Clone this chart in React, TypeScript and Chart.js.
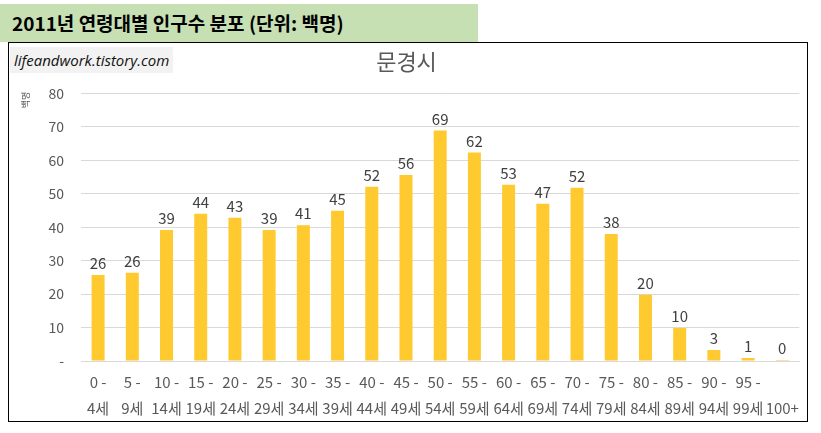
import React, { useEffect, useRef } from "react";
import { Chart, registerables } from "chart.js";

Chart.register(...registerables);

const FONT = "'Noto Sans CJK KR', 'Open Sans', sans-serif";

const ageStarts = ["0", "5", "10", "15", "20", "25", "30", "35", "40", "45", "50", "55", "60", "65", "70", "75", "80", "85", "90", "95"];
const ageEnds = ["4세", "9세", "14세", "19세", "24세", "29세", "34세", "39세", "44세", "49세", "54세", "59세", "64세", "69세", "74세", "79세", "84세", "89세", "94세", "99세"];
const lastCategory = "100+";
const population = [25.7, 26.4, 39.2, 44.0, 42.8, 39.2, 40.6, 44.9, 52.1, 55.6, 68.9, 62.3, 52.7, 47.0, 51.8, 38.0, 19.8, 9.9, 3.3, 0.9, 0.3];
const yTicks = [0, 10, 20, 30, 40, 50, 60, 70, 80];

const labels: (string[])[] = ageStarts.map((s, i) => [s + " -", ageEnds[i]]);
labels.push([" ", lastCategory]);

// values above each bar
const barLabels = {
  id: "barLabels",
  afterDatasetsDraw(chart: any) {
    const ctx = chart.ctx;
    const meta = chart.getDatasetMeta(0);
    ctx.save();
    ctx.font = `15px ${FONT}`;
    ctx.fillStyle = "#404040";
    ctx.textAlign = "center";
    ctx.textBaseline = "bottom";
    meta.data.forEach((bar: any, i: number) => {
      ctx.fillText(String(Math.round(population[i])), bar.x, bar.y - 4);
    });
    // small rotated unit label
    ctx.font = `9px ${FONT}`;
    ctx.fillStyle = "#595959";
    ctx.translate(17, 57);
    ctx.rotate(-Math.PI / 2);
    ctx.textAlign = "center";
    ctx.textBaseline = "middle";
    ctx.fillText("백명", 0, 0);
    ctx.restore();
  },
};

const PopulationChart: React.FC = () => {
  const chartRef = useRef<HTMLCanvasElement>(null);

  useEffect(() => {
    let chart: Chart | null = null;
    if (chartRef.current) {
      const ctx = chartRef.current.getContext("2d");
      if (ctx) {
        chart = new Chart(ctx, {
          type: "bar",
          data: {
            labels: labels,
            datasets: [
              {
                data: population,
                backgroundColor: "#FFCA30",
                barPercentage: 0.38,
                categoryPercentage: 1,
              },
            ],
          },
          options: {
            animation: false,
            responsive: false,
            layout: { padding: { left: 0, right: 3, top: 0, bottom: 0 } },
            plugins: {
              legend: { display: false },
              tooltip: { enabled: false },
              title: {
                display: true,
                text: "문경시",
                color: "#595959",
                font: { family: FONT, size: 22, weight: "normal" },
                padding: { top: 5, bottom: 19 },
              },
            },
            scales: {
              x: {
                grid: { display: false, drawTicks: false },
                border: { display: true, color: "#d9d9d9" },
                ticks: {
                  color: "#595959",
                  font: { family: FONT, size: 15, lineHeight: "26px" },
                  padding: 8,
                  maxRotation: 0,
                  autoSkip: false,
                },
                afterFit: (s: any) => {
                  s.height = 60;
                },
              },
              y: {
                min: 0,
                max: 80,
                afterBuildTicks: (s: any) => {
                  s.ticks = yTicks.map((v) => ({ value: v }));
                },
                grid: { color: "#d9d9d9", drawTicks: false },
                border: { display: false },
                ticks: {
                  color: "#595959",
                  font: { family: FONT, size: 14 },
                  padding: 17,
                  callback: (v: any) => (v === 0 ? "-" : String(v)),
                },
                afterFit: (s: any) => {
                  s.width = 72;
                },
              },
            },
          },
          plugins: [barLabels],
        });
      }
    }
    return () => {
      if (chart) chart.destroy();
    };
  }, []);

  return <canvas ref={chartRef} width={798} height={378} style={{ display: "block" }} />;
};

const App: React.FC = () => {
  return (
    <div style={{ position: "absolute", left: 0, top: 0, width: 821, height: 433, background: "#fff", fontFamily: FONT }}>
      <div
        style={{
          position: "absolute",
          left: 0,
          top: 4,
          width: 478,
          height: 38,
          background: "#C6E0B4",
          color: "#000",
          fontWeight: "bold",
          fontSize: 19,
          lineHeight: "38px",
          paddingLeft: 12,
          boxSizing: "border-box",
        }}
      >
        2011년 연령대별 인구수 분포 (단위: 백명)
      </div>
      <div
        style={{
          position: "absolute",
          left: 8,
          top: 42,
          width: 800,
          height: 380,
          border: "1px solid #000",
          boxSizing: "border-box",
        }}
      >
        <PopulationChart />
        <div
          style={{
            position: "absolute",
            left: 1,
            top: 4,
            width: 163,
            height: 26,
            background: "#F2F2F2",
            color: "#111",
            fontStyle: "italic",
            fontSize: 15,
            lineHeight: "26px",
            paddingLeft: 4,
            boxSizing: "border-box",
            fontFamily: "'Open Sans', sans-serif",
          }}
        >
          lifeandwork.tistory.com
        </div>
      </div>
    </div>
  );
};

export default App;
